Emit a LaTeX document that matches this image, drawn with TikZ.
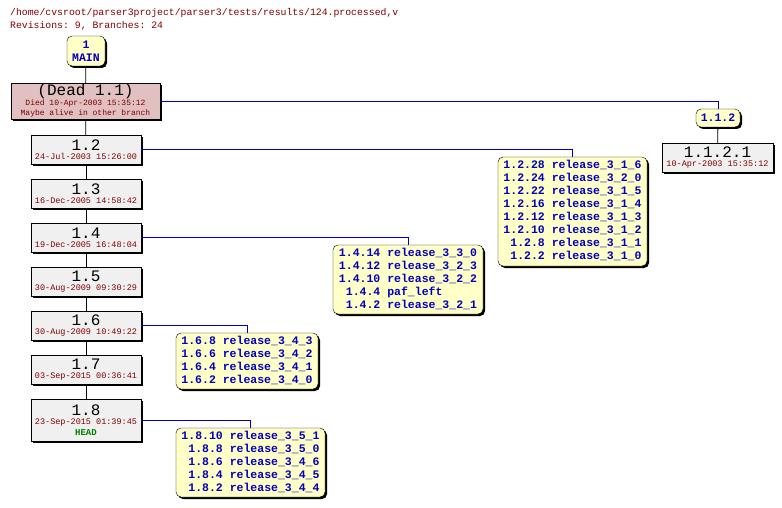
\documentclass[tikz,border=0pt]{standalone}
\usepackage{fontspec}
\setmonofont{Liberation Mono}
\usetikzlibrary{shadows}
\definecolor{tagfill}{HTML}{FFFFC8}
\definecolor{revfill}{HTML}{F0F0F0}
\definecolor{deadfill}{HTML}{E0C0C0}
\definecolor{dred}{HTML}{800000}
\definecolor{tblue}{HTML}{0000C0}
\definecolor{hgreen}{HTML}{008000}
\tikzset{
 sh/.style={drop shadow={shadow xshift=2pt,shadow yshift=-2pt,fill=black,opacity=1}},
 rev/.style={draw=black,fill=revfill,sh,inner sep=0pt,align=center,font=\ttfamily},
 tag/.style={draw=black,fill=tagfill,sh,rounded corners=5pt,inner sep=0pt,align=center,font=\ttfamily\bfseries\fontsize{11.5}{13}\selectfont,text=tblue},
 ln/.style={draw=blue!80!black,line width=0.8pt},
 tk/.style={draw=black,line width=0.8pt}
}
\newcommand{\rn}[1]{{\fontsize{16}{17}\selectfont #1}}
\newcommand{\dt}[1]{{\fontsize{8.5}{9}\selectfont\color{dred}#1}}
\newcommand{\dd}[1]{{\fontsize{8}{8.5}\selectfont\color{dred}#1}}
\newcommand{\tl}[1]{\begin{tabular}{@{}r@{\ }l@{}}#1\end{tabular}}
\begin{document}
\begin{tikzpicture}[x=1pt,y=-1pt]
\useasboundingbox (0,0) rectangle (782,508);
\node[anchor=base west,font=\ttfamily\fontsize{9.8}{10}\selectfont,text=dred,inner sep=0pt] (h1) at (10,16) {/home/cvsroot/parser3project/parser3/tests/results/124.processed,v};
\node[anchor=base west,font=\ttfamily\fontsize{9.8}{10}\selectfont,text=dred,inner sep=0pt] (h2) at (10,29) {Revisions: 9, Branches: 24};
% trunk
\node[tag,minimum width=38pt,minimum height=30pt] (main) at (86,51) {1\\MAIN};
\node[rev,fill=deadfill,minimum width=149pt,minimum height=36pt] (r11) at (85.5,101) {\rn{(Dead 1.1)}\\[-2pt]\dd{Died 10-Apr-2003 15:35:12}\\[-2pt]\dd{Maybe alive in other branch}};
\node[rev,minimum width=110pt,minimum height=29pt] (r12) at (86,149.5) {\rn{1.2}\\[-3pt]\dt{24-Jul-2003 15:26:00}};
\node[rev,minimum width=110pt,minimum height=29pt] (r13) at (86,193.5) {\rn{1.3}\\[-3pt]\dt{16-Dec-2005 14:58:42}};
\node[rev,minimum width=110pt,minimum height=29pt] (r14) at (86,237.5) {\rn{1.4}\\[-3pt]\dt{19-Dec-2005 16:48:04}};
\node[rev,minimum width=110pt,minimum height=29pt] (r15) at (86,281.5) {\rn{1.5}\\[-3pt]\dt{30-Aug-2009 09:30:29}};
\node[rev,minimum width=110pt,minimum height=29pt] (r16) at (86,325.5) {\rn{1.6}\\[-3pt]\dt{30-Aug-2009 10:49:22}};
\node[rev,minimum width=110pt,minimum height=29pt] (r17) at (86,369.5) {\rn{1.7}\\[-3pt]\dt{03-Sep-2015 00:36:41}};
\node[rev,minimum width=110pt,minimum height=42pt] (r18) at (86,420) {\rn{1.8}\\[-3pt]\dt{23-Sep-2015 01:39:45}\\[-1pt]\textcolor{hgreen}{\bfseries\fontsize{9}{10}\selectfont HEAD}};
\draw[tk] (main) -- (r11); \draw[tk] (r11) -- (r12); \draw[tk] (r12) -- (r13);
\draw[tk] (r13) -- (r14); \draw[tk] (r14) -- (r15); \draw[tk] (r15) -- (r16);
\draw[tk] (r16) -- (r17); \draw[tk] (r17) -- (r18);
% branch 1.1.2
\node[tag,minimum width=44pt,minimum height=18pt] (b112) at (718,118) {1.1.2};
\node[rev,minimum width=111pt,minimum height=29pt] (r1121) at (717.5,157.5) {\rn{1.1.2.1}\\[-3pt]\dt{10-Apr-2003 15:35:12}};
\draw[ln] (r11.east |- 0,101) -| (b112.north);
\draw[tk] (b112) -- (r1121);
% tag boxes
\node[tag,minimum width=149pt,minimum height=109pt] (t12) at (572.5,211.5) {\tl{1.2.28&release\_3\_1\_6\\1.2.24&release\_3\_2\_0\\1.2.22&release\_3\_1\_5\\1.2.16&release\_3\_1\_4\\1.2.12&release\_3\_1\_3\\1.2.10&release\_3\_1\_2\\1.2.8&release\_3\_1\_1\\1.2.2&release\_3\_1\_0}};
\draw[ln] (r12.east |- 0,149) -| (t12.north);
\node[tag,minimum width=150pt,minimum height=69pt] (t14) at (408,279.5) {\tl{1.4.14&release\_3\_3\_0\\1.4.12&release\_3\_2\_3\\1.4.10&release\_3\_2\_2\\1.4.4&paf\_left\\1.4.2&release\_3\_2\_1}};
\draw[ln] (r14.east |- 0,237) -| (t14.north);
\node[tag,minimum width=142pt,minimum height=56pt] (t16) at (247,361) {\tl{1.6.8&release\_3\_4\_3\\1.6.6&release\_3\_4\_2\\1.6.4&release\_3\_4\_1\\1.6.2&release\_3\_4\_0}};
\draw[ln] (r16.east |- 0,325) -| (t16.north);
\node[tag,minimum width=149pt,minimum height=69pt] (t18) at (250.5,462.5) {\tl{1.8.10&release\_3\_5\_1\\1.8.8&release\_3\_5\_0\\1.8.6&release\_3\_4\_6\\1.8.4&release\_3\_4\_5\\1.8.2&release\_3\_4\_4}};
\draw[ln] (r18.east |- 0,420) -| (t18.north);
\end{tikzpicture}
\end{document}
